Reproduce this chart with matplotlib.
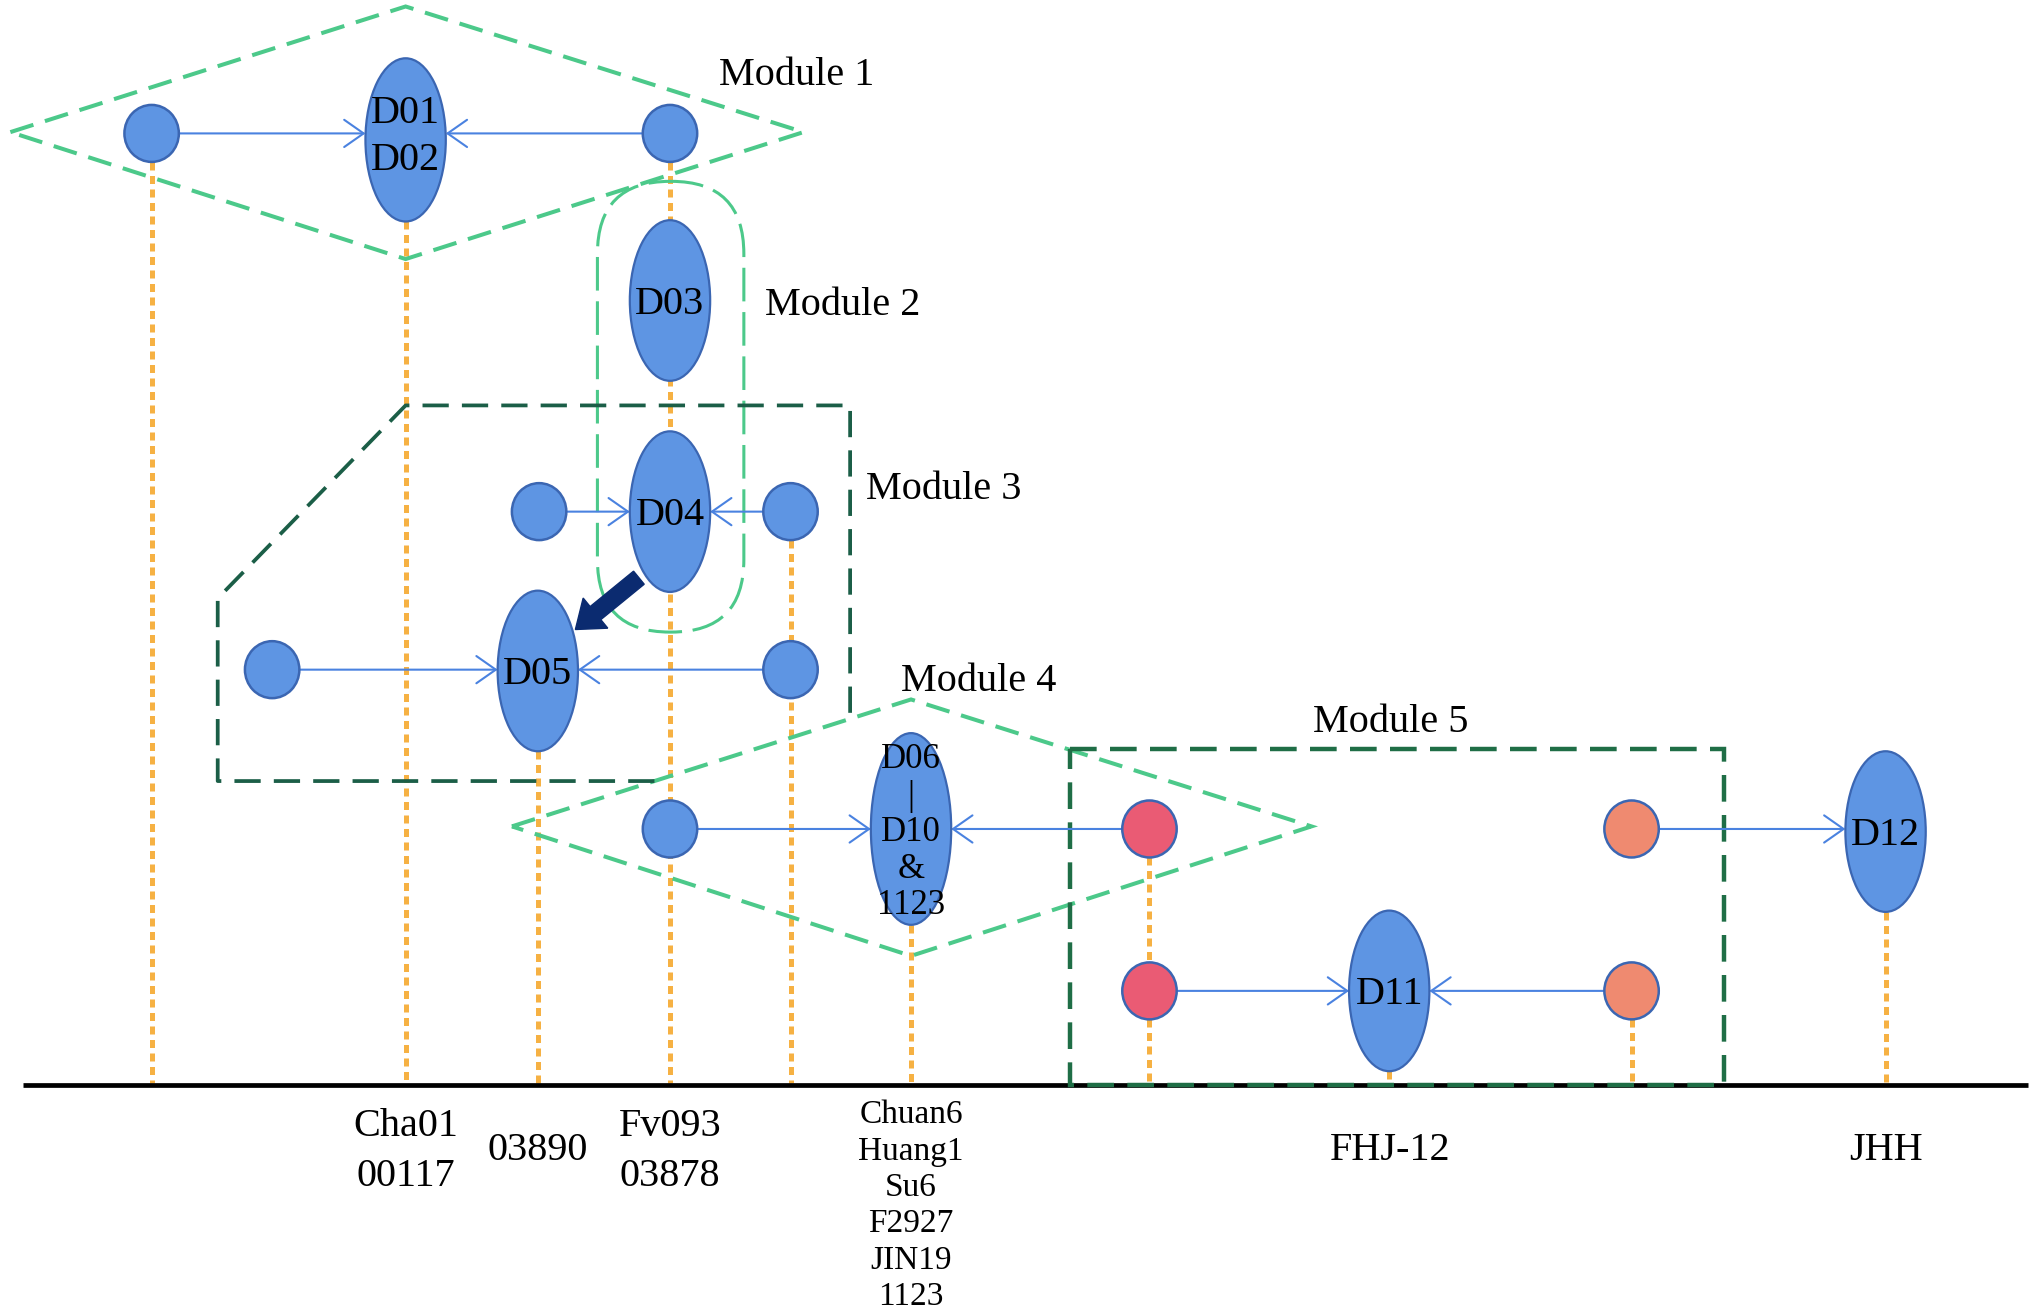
import matplotlib.pyplot as plt
from matplotlib.patches import Ellipse, Polygon, FancyBboxPatch, Rectangle

# canvas units: 1568 x 1016 (y grows downwards)
W, H = 1568, 1016
BASE_Y = 838

# big ellipse nodes
ell_labels = ["D01\nD02", "D03", "D04", "D05", "D06\n|\nD10\n&\n1123", "D11", "D12"]
ell_x = [313, 517, 517, 415, 703, 1072, 1455]
ell_y = [108, 232, 395, 518, 640, 765, 642]
ell_h = [126, 124, 124, 124, 148, 124, 124]
ell_w = 62

# small circle nodes
circ_x = [117, 517, 416, 610, 210, 610, 517, 887, 887, 1259, 1259]
circ_y = [103, 103, 395, 395, 517, 517, 640, 640, 765, 640, 765]
circ_kind = ["b", "b", "b", "b", "b", "b", "b", "r", "r", "o", "o"]
circ_stem = [True, True, False, True, False, True, True, True, True, False, True]
circ_w, circ_h = 42, 44

# arrows: circle index -> ellipse index
arrow_src = [0, 1, 2, 3, 4, 5, 6, 7, 8, 10, 9]
arrow_dst = [0, 0, 2, 2, 3, 3, 4, 4, 5, 5, 6]

# thick transfer arrow D04 -> D05
transfer_start = (493, 446)
transfer_end = (444, 486)

# modules
mod1 = [(8, 102), (313, 5), (620, 102), (313, 200)]
mod4 = [(395, 638), (703, 540), (1012, 638), (703, 738)]
mod3 = [(505, 603), (168, 603), (168, 462), (313, 313), (656, 313), (656, 555)]
mod2_box = (461, 140, 113, 348)
mod5_box = (826, 578, 504, 260)
mod_names = ["Module 1", "Module 2", "Module 3", "Module 4", "Module 5"]
mod_label_xy = [(615, 55), (650, 233), (728, 375), (755, 523), (1073, 555)]

# bottom labels
bot_labels = ["Cha01\n00117", "03890", "Fv093\n03878", "FHJ-12", "JHH"]
bot_x = [313, 415, 517, 1073, 1455]
bot_y = [886, 885, 886, 885, 885]
list_label = "Chuan6\nHuang1\nSu6\nF2927\nJIN19\n1123"
list_x, list_y = 703, 931

BLUE = "#5e95e3"
EDGE = "#3b66b2"
FILL = {"b": BLUE, "r": "#ea5b74", "o": "#ef8a70"}
ORANGE = "#f6b143"
LGREEN = "#4cc98a"
DGREEN = "#1b5e47"
M5GREEN = "#1f6e46"
ABLUE = "#4a82e0"
NAVY = "#0b2b70"

plt.rcParams['font.family'] = ['Liberation Serif', 'DejaVu Serif']

fig = plt.figure(figsize=(20.32, 13.16), dpi=100)
ax = fig.add_axes([0, 0, 1, 1])
ax.set_xlim(0, W)
ax.set_ylim(H, 0)
ax.axis('off')

# base line
ax.plot([18, 1565], [BASE_Y, BASE_Y], color='black', lw=3.4, solid_capstyle='butt', zorder=2)

# orange dotted stems: one per column, from the highest node down to the base
tops = {}
for x, y, h in zip(ell_x, ell_y, ell_h):
    tops[x] = min(tops.get(x, 1e9), y + h / 2)
for x, y, s in zip(circ_x, circ_y, circ_stem):
    if s:
        tops[x] = min(tops.get(x, 1e9), y + circ_h / 2)
for x, top in tops.items():
    ax.plot([x, x], [top, BASE_Y - 2], color=ORANGE, lw=3.6,
            linestyle=(0, (1.6, 1.1)), zorder=1)

# module outlines
dash_l = (0, (6, 3))
ax.add_patch(Polygon(mod1, closed=True, fill=False, ec=LGREEN, lw=2.9, ls=dash_l, zorder=3))
ax.add_patch(Polygon(mod4, closed=True, fill=False, ec=LGREEN, lw=2.9, ls=dash_l, zorder=3))
ax.add_patch(FancyBboxPatch(mod2_box[:2], mod2_box[2], mod2_box[3],
                            boxstyle="round,pad=0,rounding_size=56",
                            fill=False, ec=LGREEN, lw=2.2, ls=(0, (11, 3.5)), zorder=3))
m3x, m3y = zip(*mod3)
ax.plot(m3x, m3y, color=DGREEN, lw=2.7, ls=(0, (7, 3.5)), zorder=3)
ax.add_patch(Rectangle(mod5_box[:2], mod5_box[2], mod5_box[3], fill=False,
                       ec=M5GREEN, lw=3.2, ls=(0, (6, 3)), zorder=3))

for name, (x, y) in zip(mod_names, mod_label_xy):
    ax.text(x, y + 3, name, fontsize=29, ha='center', va='center', zorder=6)

# arrows between nodes (horizontal, at the height of the circle)
for s, d in zip(arrow_src, arrow_dst):
    cx, cy = circ_x[s], circ_y[s]
    ex = ell_x[d]
    if cx < ex:
        start, end = (cx + circ_w / 2, cy), (ex - ell_w / 2, cy)
    else:
        start, end = (cx - circ_w / 2, cy), (ex + ell_w / 2, cy)
    ax.annotate('', xy=end, xytext=start,
                arrowprops=dict(arrowstyle='->,head_length=0.5,head_width=0.35',
                                color=ABLUE, lw=1.5, shrinkA=0, shrinkB=0,
                                mutation_scale=28),
                zorder=4)

# ellipses
for lab, x, y, h in zip(ell_labels, ell_x, ell_y, ell_h):
    ax.add_patch(Ellipse((x, y), ell_w, h, fc=BLUE, ec=EDGE, lw=1.6, zorder=5))
    n = lab.count("\n")
    if n > 2:
        ax.text(x, y + 3, lab, fontsize=25, ha='center', va='center',
                linespacing=1.14, zorder=6)
    elif n == 1:
        ax.text(x, y - 2, lab, fontsize=29, ha='center', va='center',
                linespacing=1.36, zorder=6)
    else:
        ax.text(x, y + 3, lab, fontsize=29, ha='center', va='center', zorder=6)

# circles
for x, y, k in zip(circ_x, circ_y, circ_kind):
    ax.add_patch(Ellipse((x, y), circ_w, circ_h, fc=FILL[k], ec=EDGE, lw=1.8, zorder=5))

# thick transfer arrow
dx = transfer_end[0] - transfer_start[0]
dy = transfer_end[1] - transfer_start[1]
ax.arrow(transfer_start[0], transfer_start[1], dx, dy, width=13, head_width=30,
         head_length=20, length_includes_head=True, fc=NAVY, ec=NAVY, zorder=6)

# bottom labels
for lab, x, y in zip(bot_labels, bot_x, bot_y):
    ax.text(x, y + 3, lab, fontsize=29, ha='center', va='center', linespacing=1.43)
ax.text(list_x, list_y, list_label, fontsize=24, ha='center', va='center', linespacing=1.25)

fig.savefig("out.png", dpi=100)
